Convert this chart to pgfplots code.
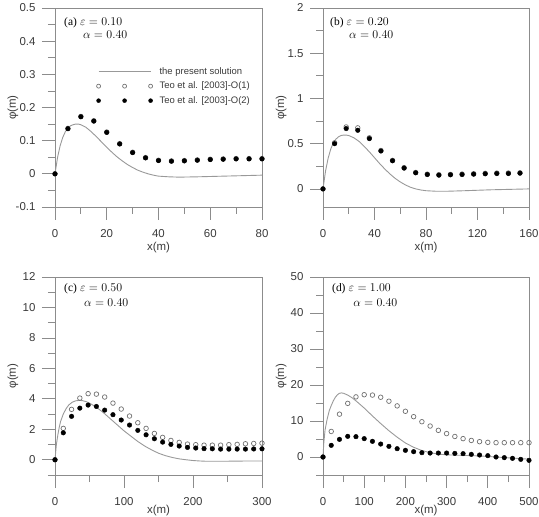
\documentclass[border=0pt]{standalone}
\usepackage{pgfplots}
\pgfplotsset{compat=1.18}
\usepackage{fontspec}
\setmainfont{Liberation Sans}
\newfontfamily\serifaf{Liberation Serif}
\definecolor{axgray}{HTML}{8C8C8C}
\definecolor{labgray}{HTML}{3A3A3A}
\definecolor{curvegray}{HTML}{999999}
\definecolor{opengray}{HTML}{707070}
\tikzset{annot/.style={anchor=west, inner sep=0pt, font=\fontsize{11.5}{13}\selectfont, text=black}}
\pgfplotsset{
  panel/.style={
    scale only axis,
    axis line style={draw=axgray, line width=0.8bp},
    tick style={draw=axgray, line width=0.8bp},
    tick align=outside, tick pos=left,
    major tick length=13bp, minor tick length=7bp,
    ticklabel style={font=\fontsize{11.5}{13}\selectfont, text=labgray},
    xticklabel style={yshift=-6bp},
    yticklabel style={xshift=-3bp},
    /pgf/number format/assume math mode=true,
    scaled ticks=false,
    xlabel={x(m)}, ylabel={φ(m)},
    label style={font=\fontsize{11.5}{13}\selectfont, text=labgray},
    xlabel style={at={(axis description cs:0.5,-0.205)}, anchor=center},
    ylabel style={at={(axis description cs:-0.203,0.5)}, anchor=center},
    clip=false,
  },
  pres/.style={no markers, draw=curvegray, line width=0.9bp},
  o1/.style={only marks, mark=o, mark size=2.3bp, mark options={draw=opengray, line width=0.7bp, fill=none}},
  o2/.style={only marks, mark=*, mark size=2.3bp, mark options={draw=black, fill=black}},
  legimg/.style={legend image code/.code={\draw[##1, mark size=2bp] plot coordinates {(0bp,0bp) (26bp,0bp) (52bp,0bp)};}},
}
\begin{document}
\begin{tikzpicture}
\useasboundingbox (0,0) rectangle (539bp,517bp);
% ---------------- (a)
\begin{axis}[panel, at={(55bp,310bp)}, anchor=south west, width=207bp, height=199bp,
  xmin=0, xmax=80, ymin=-0.1, ymax=0.5,
  xtick={0,20,40,60,80}, minor xtick={10,30,50,70},
  ytick={-0.1,0,0.1,0.2,0.3,0.4,0.5}, minor ytick={-0.05,0.05,0.15,0.25,0.35,0.45},
  yticklabels={-0.1,0,0.1,0.2,0.3,0.4,0.5},
  legend style={at={(rel axis cs:0.2,0.71)}, anchor=north west, draw=none, fill=none, inner sep=0pt,
    font=\fontsize{9.5}{10}\selectfont, text=labgray, row sep=3bp,
    nodes={inner sep=1bp, text height=7.5bp, text depth=2bp},
    /tikz/every odd column/.append style={column sep=6bp}},
  legend cell align=left]
\addplot[pres, legimg] coordinates {(0,0) (1,0.05) (2,0.085) (3,0.11) (4,0.127) (5,0.138) (6,0.145) (7,0.148) (8,0.15) (9,0.15) (10,0.148) (12,0.14) (14,0.127) (16,0.112) (18,0.096) (20,0.08) (22,0.065) (24,0.051) (26,0.039) (28,0.028) (30,0.019) (32,0.011) (34,0.005) (36,0.0) (38,-0.004) (40,-0.007) (44,-0.009) (48,-0.010) (55,-0.009) (60,-0.008) (70,-0.006) (80,-0.004)};
\addlegendentry{the present solution}
\addplot[o1, legimg] coordinates {(0,0) (5,0.137) (10,0.173) (15,0.160) (20,0.126) (25,0.091) (30,0.065) (35,0.049) (40,0.041) (45,0.039) (50,0.040) (55,0.042) (60,0.044) (65,0.045) (70,0.046) (75,0.046) (80,0.046)};
\addlegendentry{Teo et al. [2003]-O(1)}
\addplot[o2, legimg] coordinates {(0,0) (5,0.136) (10,0.172) (15,0.159) (20,0.125) (25,0.090) (30,0.064) (35,0.048) (40,0.040) (45,0.038) (50,0.039) (55,0.041) (60,0.043) (65,0.044) (70,0.045) (75,0.045) (80,0.045)};
\addlegendentry{Teo et al. [2003]-O(2)}
\node[annot] at (rel axis cs:0.0435,0.925) {{\serifaf (a)} $\varepsilon = 0.10$};
\node[annot] at (rel axis cs:0.135,0.864) {$\alpha = 0.40$};
\end{axis}
% ---------------- (b)
\begin{axis}[panel, at={(323bp,310bp)}, anchor=south west, width=206bp, height=199bp,
  xmin=0, xmax=160, ymin=-0.2, ymax=2,
  xtick={0,40,80,120,160}, minor xtick={20,60,100,140},
  ytick={0,0.5,1,1.5,2}, minor ytick={0.25,0.75,1.25,1.75}]
\addplot[pres] coordinates {(0,0) (2,0.2) (4,0.34) (6,0.44) (8,0.51) (10,0.55) (12,0.575) (14,0.59) (16,0.595) (18,0.595) (20,0.59) (24,0.565) (28,0.525) (32,0.47) (36,0.41) (40,0.345) (44,0.28) (48,0.22) (52,0.165) (56,0.117) (60,0.077) (64,0.044) (68,0.018) (72,0.0) (76,-0.012) (80,-0.02) (88,-0.026) (96,-0.026) (110,-0.02) (130,-0.01) (145,-0.005) (160,0)};
\addplot[o1] coordinates {(0,0) (9,0.51) (18,0.685) (27,0.675) (36,0.565) (45,0.425) (54,0.315) (63,0.235) (72,0.182) (81,0.163) (90,0.157) (99,0.16) (108,0.164) (117,0.168) (126,0.172) (135,0.175) (144,0.176) (153,0.178)};
\addplot[o2] coordinates {(0,0) (9,0.50) (18,0.667) (27,0.648) (36,0.556) (45,0.419) (54,0.311) (63,0.23) (72,0.178) (81,0.159) (90,0.152) (99,0.156) (108,0.159) (117,0.163) (126,0.167) (135,0.17) (144,0.17) (153,0.174)};
\node[annot] at (rel axis cs:0.034,0.925) {{\serifaf (b)} $\varepsilon = 0.20$};
\node[annot] at (rel axis cs:0.126,0.864) {$\alpha = 0.40$};
\end{axis}
% ---------------- (c)
\begin{axis}[panel, at={(55bp,42bp)}, anchor=south west, width=207bp, height=198bp,
  xmin=0, xmax=300, ymin=-1, ymax=12,
  xtick={0,100,200,300}, minor xtick={50,150,250},
  ytick={0,2,4,6,8,10,12}, minor ytick={-1,1,3,5,7,9,11},
  xlabel style={at={(axis description cs:0.5,-0.18)}}]
\addplot[pres] coordinates {(0,0) (2,1.0) (4,1.6) (6,2.1) (8,2.5) (12,3.0) (16,3.35) (20,3.6) (25,3.78) (30,3.87) (35,3.9) (40,3.88) (45,3.82) (50,3.72) (60,3.45) (70,3.1) (80,2.7) (90,2.3) (100,1.9) (110,1.55) (120,1.2) (130,0.9) (140,0.65) (150,0.43) (160,0.27) (170,0.15) (180,0.06) (190,0.0) (200,-0.05) (210,-0.08) (220,-0.1) (240,-0.1) (260,-0.09) (280,-0.08) (300,-0.08)};
\addplot[o1] coordinates {(0,0) (12,2.06) (24,3.31) (36,4.05) (48,4.34) (60,4.31) (72,4.12) (84,3.72) (96,3.33) (108,2.87) (120,2.43) (132,2.06) (144,1.73) (156,1.47) (168,1.27) (180,1.14) (192,1.03) (204,0.99) (216,0.96) (228,0.96) (240,0.96) (252,0.99) (264,1.01) (276,1.05) (288,1.07) (300,1.09)};
\addplot[o2] coordinates {(0,0) (12,1.77) (24,2.85) (36,3.39) (48,3.59) (60,3.50) (72,3.26) (84,2.96) (96,2.61) (108,2.28) (120,1.93) (132,1.64) (144,1.38) (156,1.16) (168,1.01) (180,0.90) (192,0.81) (204,0.77) (216,0.73) (228,0.72) (240,0.70) (252,0.70) (264,0.70) (276,0.70) (288,0.71) (300,0.72)};
\node[annot] at (rel axis cs:0.0435,0.939) {{\serifaf (c)} $\varepsilon = 0.50$};
\node[annot] at (rel axis cs:0.14,0.869) {$\alpha = 0.40$};
\end{axis}
% ---------------- (d)
\begin{axis}[panel, at={(323bp,42bp)}, anchor=south west, width=206bp, height=198bp,
  xmin=0, xmax=500, ymin=-5, ymax=50,
  xtick={0,100,200,300,400,500}, minor xtick={50,150,250,350,450},
  ytick={0,10,20,30,40,50}, minor ytick={-5,5,15,25,35,45},
  xlabel style={at={(axis description cs:0.5,-0.18)}}]
\addplot[pres] coordinates {(0,0) (2,4) (5,7.5) (10,10.5) (15,12.8) (20,14.3) (25,15.6) (30,16.6) (35,17.3) (40,17.7) (45,17.8) (50,17.7) (60,17.2) (70,16.5) (80,15.6) (90,14.6) (100,13.6) (120,11.4) (140,9.3) (160,7.3) (180,5.5) (200,3.9) (220,2.7) (240,1.8) (260,1.2) (280,0.8) (300,0.6) (340,0.45) (380,0.3) (420,0.0) (460,-0.3) (500,-0.6)};
\addplot[o1] coordinates {(0,0) (20,7.1) (40,11.9) (60,14.9) (80,16.7) (100,17.3) (120,17.2) (140,16.6) (160,15.5) (180,14.2) (200,12.7) (220,11.2) (240,9.8) (260,8.6) (280,7.4) (300,6.5) (320,5.7) (340,5.1) (360,4.6) (380,4.26) (400,4.07) (420,3.98) (440,3.98) (460,3.98) (480,3.98) (500,3.98)};
\addplot[o2] coordinates {(0,0) (20,3.24) (40,4.9) (60,5.74) (80,5.65) (100,5.1) (120,4.35) (140,3.6) (160,2.96) (180,2.31) (200,1.85) (220,1.48) (240,1.2) (260,1.1) (280,1.1) (300,1.1) (320,1.0) (340,0.93) (360,0.74) (380,0.55) (400,0.37) (420,0.0) (440,-0.18) (460,-0.37) (480,-0.65) (500,-0.93)};
\node[annot] at (rel axis cs:0.0437,0.939) {{\serifaf (d)} $\varepsilon = 1.00$};
\node[annot] at (rel axis cs:0.146,0.869) {$\alpha = 0.40$};
\end{axis}
\end{tikzpicture}
\end{document}
